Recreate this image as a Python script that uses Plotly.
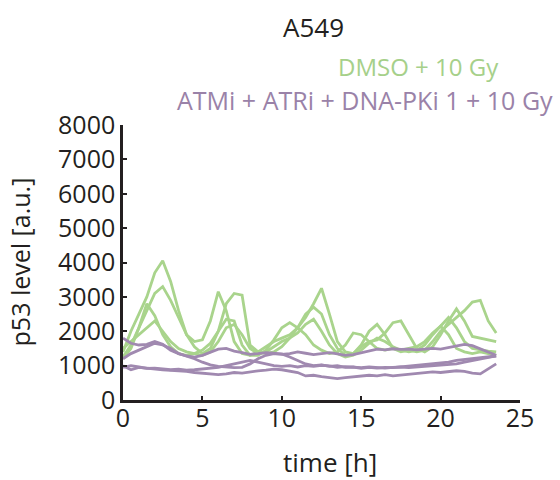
import plotly.graph_objects as go

# Sampling times (hours after irradiation)
time_h = [0.0, 0.5, 1.0, 1.5, 2.0, 2.5, 3.0, 3.5, 4.0, 4.5, 5.0, 5.5,
          6.0, 6.5, 7.0, 7.5, 8.0, 8.5, 9.0, 9.5, 10.0, 10.5, 11.0, 11.5,
          12.0, 12.5, 13.0, 13.5, 14.0, 14.5, 15.0, 15.5, 16.0, 16.5, 17.0, 17.5,
          18.0, 18.5, 19.0, 19.5, 20.0, 20.5, 21.0, 21.5, 22.0, 22.5, 23.0, 23.5]

# Single-cell p53 traces, DMSO + 10 Gy
dmso_cell1 = [1400, 2000, 2500, 3000, 3700, 4050, 3450, 2600, 1900, 1700, 1750, 2300,
              3150, 2600, 1700, 1350, 1300, 1400, 1550, 1700, 1800, 1900, 2100, 2400,
              2800, 3250, 2500, 1700, 1400, 1350, 1600, 2000, 2200, 1900, 1500, 1400,
              1450, 1400, 1450, 1700, 2000, 2200, 2400, 2600, 2850, 2900, 2300, 1950]
dmso_cell2 = [1250, 1600, 2100, 2600, 3100, 3300, 2900, 2400, 1900, 1550, 1350, 1500,
              2000, 2800, 3100, 3050, 1600, 1400, 1350, 1400, 1550, 1800, 2100, 2500,
              2700, 2500, 1900, 1500, 1300, 1350, 1550, 1700, 1750, 1950, 2250, 2300,
              1900, 1500, 1400, 1550, 1900, 2300, 2650, 2300, 1850, 1800, 1750, 1700]
dmso_cell3 = [1200, 1500, 2100, 2800, 2450, 1900, 1550, 1350, 1300, 1350, 1450, 1650,
              2000, 2350, 2300, 1600, 1300, 1300, 1450, 1750, 2100, 2250, 2100, 1900,
              1600, 1450, 1350, 1400, 1600, 1950, 1900, 1700, 1500, 1450, 1500, 1450,
              1500, 1550, 1700, 1950, 2150, 1900, 1500, 1400, 1350, 1400, 1350, 1300]
dmso_cell4 = [1500, 1700, 1900, 2100, 2300, 2000, 1700, 1500, 1400, 1350, 1300, 1400,
              1700, 2100, 2200, 1900, 1500, 1350, 1400, 1550, 1700, 1800, 1950, 2200,
              2350, 2000, 1600, 1350, 1250, 1300, 1450, 1650, 1800, 1700, 1550, 1450,
              1400, 1450, 1600, 1900, 2150, 2400, 2100, 1700, 1500, 1450, 1420, 1400]

# Single-cell p53 traces, ATMi + ATRi + DNA-PKi 1 + 10 Gy
inhib_cell1 = [1800, 1650, 1600, 1620, 1700, 1620, 1450, 1350, 1280, 1250, 1300, 1380,
               1480, 1500, 1420, 1380, 1330, 1350, 1380, 1360, 1330, 1350, 1400, 1360,
               1320, 1350, 1380, 1340, 1300, 1320, 1380, 1420, 1480, 1460, 1490, 1470,
               1480, 1460, 1490, 1500, 1480, 1520, 1570, 1620, 1580, 1480, 1380, 1300]
inhib_cell2 = [1200, 1350, 1450, 1550, 1650, 1600, 1500, 1350, 1280, 1200, 1100, 1020,
               980, 960, 940, 950, 1050, 1200, 1300, 1350, 1340, 1250, 1150, 1050,
               1000, 1020, 980, 1000, 950, 960, 920, 950, 930, 950, 940, 960,
               980, 1000, 1020, 1050, 1080, 1100, 1150, 1180, 1200, 1220, 1250, 1280]
inhib_cell3 = [1000, 880, 950, 920, 900, 880, 860, 850, 830, 800, 780, 760,
               740, 760, 800, 780, 820, 850, 870, 900, 880, 850, 800, 700,
               720, 680, 640, 620, 650, 680, 700, 720, 700, 740, 700, 720,
               750, 780, 800, 820, 800, 820, 850, 830, 780, 760, 900, 1050]
inhib_cell4 = [950, 1000, 960, 920, 930, 900, 880, 900, 870, 880, 900, 920,
               950, 1000, 1050, 1100, 1150, 1100, 1050, 1000, 980, 1000, 960, 1000,
               980, 1010, 990, 950, 970, 960, 940, 960, 950, 930, 950, 960,
               940, 960, 980, 1000, 1000, 1020, 1050, 1100, 1150, 1200, 1250, 1280]

x_ticks = [0, 5, 10, 15, 20, 25]
y_ticks = [0, 1000, 2000, 3000, 4000, 5000, 6000, 7000, 8000]

GREEN = "#a9d48c"
PURPLE = "#a089b0"
GREEN_TEXT = "#a6d08a"
PURPLE_TEXT = "#9a82a8"
INK = "#231f20"
FONT = "Open Sans"

fig = go.Figure()
for trace in [dmso_cell1, dmso_cell2, dmso_cell3, dmso_cell4]:
    fig.add_trace(go.Scatter(x=time_h, y=trace, mode="lines",
                             line=dict(color=GREEN, width=2.8), showlegend=False))
for trace in [inhib_cell1, inhib_cell2, inhib_cell3, inhib_cell4]:
    fig.add_trace(go.Scatter(x=time_h, y=trace, mode="lines",
                             line=dict(color=PURPLE, width=2.8), showlegend=False))

axis_common = dict(showgrid=False, zeroline=False, showline=True, linecolor=INK,
                   linewidth=2.5, ticks="inside", ticklen=4, tickwidth=2,
                   tickcolor=INK, tickfont=dict(family=FONT, size=25, color=INK))

fig.update_xaxes(range=[0, 25], tickvals=x_ticks, ticktext=[str(v) for v in x_ticks],
                 ticklabelstandoff=-6, **axis_common)
fig.update_yaxes(range=[0, 8000], tickvals=y_ticks, ticktext=[str(v) for v in y_ticks],
                 **axis_common)

fig.update_layout(
    width=560, height=480,
    margin=dict(l=123, r=40, t=125, b=80, autoexpand=False),
    paper_bgcolor="white", plot_bgcolor="white",
    font=dict(family=FONT, color=INK),
    annotations=[
        dict(text="A549", xref="paper", yref="paper", x=0.48, y=1.355,
             xanchor="center", yanchor="middle", showarrow=False,
             font=dict(family=FONT, size=26, color=INK)),
        dict(text="DMSO + 10 Gy", xref="paper", yref="paper", x=0.951, y=1.212,
             xanchor="right", yanchor="middle", showarrow=False,
             font=dict(family=FONT, size=24, color=GREEN_TEXT)),
        dict(text="ATMi + ATRi + DNA-PKi 1 + 10 Gy", xref="paper", yref="paper",
             x=1.089, y=1.09, xanchor="right", yanchor="middle", showarrow=False,
             font=dict(family=FONT, size=25, color=PURPLE_TEXT)),
        dict(text="time [h]", xref="paper", yref="paper", x=0.522, y=-0.225,
             xanchor="center", yanchor="middle", showarrow=False,
             font=dict(family=FONT, size=26, color=INK)),
        dict(text="p53 level [a.u.]", xref="paper", yref="paper", x=-0.26, y=0.503,
             xanchor="center", yanchor="middle", textangle=-90, showarrow=False,
             font=dict(family=FONT, size=25, color=INK)),
    ],
)

fig.write_html("out.html")
